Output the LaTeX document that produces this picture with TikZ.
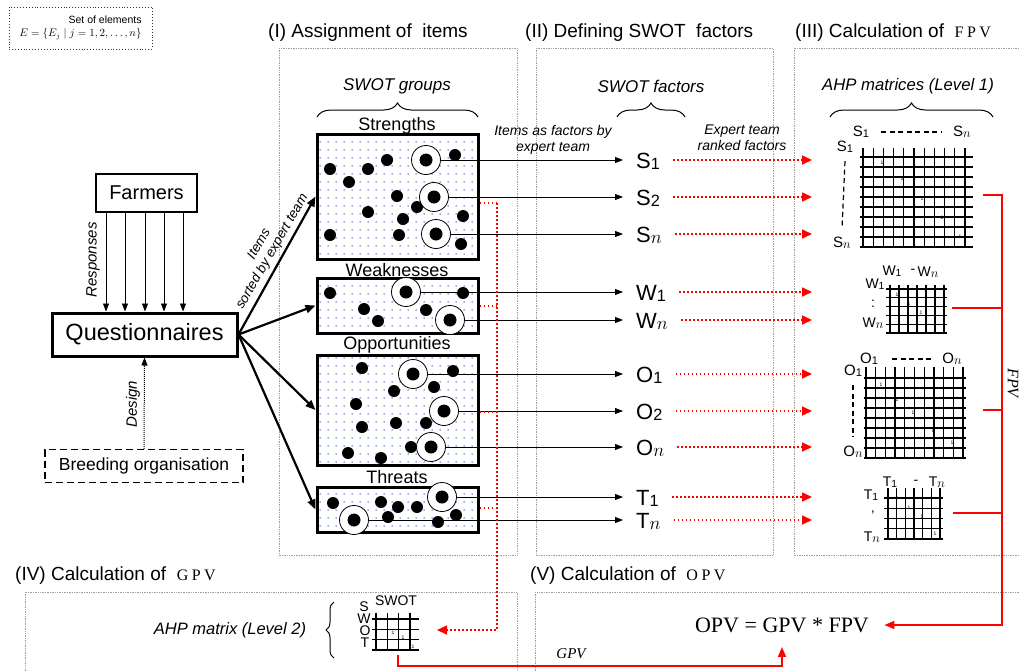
\documentclass[tikz,border=0pt]{standalone}
\usepackage{fontspec}
\setmainfont{Liberation Sans}
\newfontfamily\serif{Liberation Serif}
\usetikzlibrary{arrows.meta,decorations.pathreplacing,patterns.meta}
\definecolor{dotblue}{RGB}{50,90,220}
\newcommand\fsz[1]{\fontsize{#1}{#1}\selectfont}
\newcommand\fszl[2]{\fontsize{#1}{#2}\selectfont}
\newcommand\lowsub[1]{\raisebox{-0.08em}{\scalebox{0.74}{#1}}}
\newcommand\nsub{\raisebox{-0.08em}{\scalebox{0.9}{$n$}}}
\newcommand\spc{\kern3.5pt}
\newcommand\ahpgrid[9]{%
  \foreach \i in {1,...,#5}{\pgfmathsetmacro\xx{#3+(\i-1)*(#4-#3)/(#5-1)}\draw[gridl] (\xx,#6) -- (\xx,#8);}%
  \foreach \j in {1,...,#9}{\pgfmathsetmacro\yy{#7+(\j-1)*(#8-#7)/(#9-1)}\draw[gridl] (#1,\yy) -- (#2,\yy);}}
\begin{document}
\begin{tikzpicture}[x=1pt,y=-1pt,
  secbox/.style={draw=gray!75,densely dotted,line width=0.7pt},
  sectitle/.style={anchor=west,inner sep=0pt,font=\fsz{19}},
  grp/.style={draw,line width=3pt,pattern={Dots[distance=8pt,radius=0.75pt]},pattern color=dotblue,inner sep=0pt},
  grplabel/.style={anchor=base,inner sep=0pt,font=\fsz{18}},
  ring/.style={circle,draw,line width=0.8pt,fill=white,minimum size=29pt,inner sep=0pt},
  fac/.style={anchor=base west,inner xsep=13pt,inner ysep=2pt,font=\fsz{22}},
  blk/.style={-{Triangle[length=8pt,width=6pt]},line width=0.8pt},
  thk/.style={-{Triangle[length=10pt,width=8pt]},line width=2.2pt},
  rdot/.style={red,line width=1.6pt,dash pattern=on 1.6pt off 2.4pt},
  rdotarr/.style={rdot,-{Triangle[length=10pt,width=9pt]}},
  rline/.style={red,line width=1.6pt},
  rarr/.style={rline,-{Triangle[length=10pt,width=8pt]}},
  gridl/.style={line width=1.3pt},
  one/.style={inner sep=0pt,font=\fsz{5}},
  mlab/.style={inner sep=0pt,font=\fsz{15}},
  slab/.style={inner sep=0pt,font=\fsz{14}},
  brc/.style={decorate,decoration={brace,amplitude=14pt},line width=1pt},
  mdash/.style={line width=1.2pt,dash pattern=on 5pt off 3.5pt}
]
\clip (0,0) rectangle (1020,670);
\fill[white] (0,0) rectangle (1020,670);

% section boxes
\draw[secbox] (279,48) rectangle (517,555);
\draw[secbox] (536,48) rectangle (773,555);
\draw[secbox] (794,48) rectangle (1030,555);
\draw[secbox] (25,592) rectangle (517,690);
\draw[secbox] (535,592) rectangle (1030,690);

% titles
\node[sectitle] (t1) at (268,33) {(I) Assignment of\ \ items};
\node[sectitle] (t2) at (525,33) {(II) Defining SWOT\ \ factors};
\node[sectitle] (t3) at (795,33) {(III) Calculation of\ \ {\serif\fsz{16}F\spc P\spc V}};
\node[sectitle] (t4) at (15,576) {(IV) Calculation of\ \ {\serif\fsz{16}G\spc P\spc V}};
\node[sectitle] (t5) at (530,576) {(V) Calculation of\ \ {\serif\fsz{16}O\spc P\spc V}};

% set of elements
\node[draw=black!80,dotted,line width=0.9pt,minimum width=143pt,minimum height=42pt,align=right,font=\fszl{10.5}{13}] (setel) at (80.5,28) {Set of elements\\$E=\{E_j\mid j=1,2,\dots,n\}$};

% left part
\node[draw,line width=2pt,minimum width=101pt,minimum height=38pt,font=\fsz{20}] (f) at (146.5,193) {Farmers};
\node[draw,line width=3pt,minimum width=185pt,minimum height=43pt,font=\fsz{23.5}] (q) at (144.5,334.5) {Questionnaires};
\node[draw,line width=1.5pt,dash pattern=on 7pt off 4pt,minimum width=198pt,minimum height=33pt,font=\fsz{17.5}] (b) at (144,466) {Breeding organisation};
\foreach \x in {106,125,145,164,183}{\coordinate (fx) at (\x,0); \draw[blk] (f.south -| fx) -- (q.north -| fx);}
\draw[densely dotted,line width=1pt,-{Triangle[length=8pt,width=6pt]}] (b.north) -- (q.south);
\node[rotate=90,font=\itshape\fsz{15}] (resp) at (93,260) {Responses};
\node[rotate=90,font=\itshape\fsz{15}] (des) at (133,404) {Design};

% group boxes
\node[grp,minimum width=161pt,minimum height=125pt] (gS) at (397.5,196.5) {};
\node[grp,minimum width=161pt,minimum height=55pt] (gW) at (397.5,305.5) {};
\node[grp,minimum width=161pt,minimum height=110pt] (gO) at (397.5,410) {};
\node[grp,minimum width=161pt,minimum height=45pt] (gT) at (397.5,509.5) {};
\node[grplabel] (lS) at (397,130) {Strengths};
\node[grplabel] (lW) at (397,276) {Weaknesses};
\node[grplabel] (lO) at (397,349) {Opportunities};
\node[grplabel] (lT) at (397,483) {Threats};
\foreach \g in {gS,gW,gO,gT} \draw[thk] (q.east) -- (\g.west);
\node[rotate=60,align=center,inner sep=0pt,font=\itshape\fszl{13.5}{15}] (itl) at (266,248) {Items\\sorted by expert team};

\draw[brc] (317,117) -- (478,117);
\node[font=\itshape\fsz{17}] (swg) at (397,86) {SWOT groups};

% items
\foreach \p in {(330,169),(349,182),(368,169),(387,160),(455,155),(397,196),(417,207),(368,212),(403,219),(463,216),(330,235),(399,235),(461,244),
  (330,293),(463,293),(364,309),(378,321),(426,310),
  (362,368),(453,371),(434,387),(394,391),(356,404),(362,427),(396,423),(426,423),(411,447),(348,453),(381,458),
  (333,503),(381,502),(398,507),(417,507),(388,517),(456,515),(438,522)}
  \fill \p circle (6pt);
\node[ring] (cS1) at (426,160) {};
\node[ring] (cS2) at (434,197) {};
\node[ring] (cSn) at (436,234) {};
\node[ring] (cW1) at (406,292) {};
\node[ring] (cWn) at (450,320) {};
\node[ring] (cO1) at (413,374) {};
\node[ring] (cO2) at (444,411) {};
\node[ring] (cOn) at (431,447) {};
\node[ring] (cT1) at (442,497) {};
\node[ring] (cTn) at (354,520) {};
\foreach \c in {cS1,cS2,cSn,cW1,cWn,cO1,cO2,cOn,cT1,cTn} \fill (\c) circle (6.5pt);

% factors
\node[fac] (s1) at (623,168) {S\lowsub{1}};
\node[fac] (s2) at (623,205) {S\lowsub{2}};
\node[fac] (sn) at (623,242) {S\nsub};
\node[fac] (w1) at (623,300) {W\lowsub{1}};
\node[fac] (wn) at (623,328) {W\nsub};
\node[fac] (o1) at (623,382) {O\lowsub{1}};
\node[fac] (o2) at (623,419) {O\lowsub{2}};
\node[fac] (on) at (623,455) {O\nsub};
\node[fac] (t1f) at (623,505) {T\lowsub{1}};
\node[fac] (tn) at (623,528) {T\nsub};
\coordinate (rt) at (812,0);
\foreach \c/\n in {cS1/s1,cS2/s2,cSn/sn,cW1/w1,cWn/wn,cO1/o1,cO2/o2,cOn/on,cT1/t1f,cTn/tn}{
  \draw[blk] (\c.east) -- (\c.east -| \n.west);
  \draw[rdotarr] (\c -| \n.east) -- (\c -| rt);}
\draw[brc] (617,117) -- (685,117);
\node[font=\itshape\fsz{17}] (swf) at (651,86) {SWOT factors};
\node[align=center,font=\itshape\fszl{14}{16}] (iaf) at (553,140) {Items as factors by\\expert team};
\node[align=center,font=\itshape\fszl{14}{16}] (etr) at (742,138) {Expert team\\ranked factors};

% red dotted to level 2
\coordinate (vr) at (497,0);
\coordinate (yS) at (0,203);
\coordinate (yW) at (0,306);
\coordinate (yO) at (0,412);
\coordinate (yT) at (0,508);
\coordinate (l2in) at (437,630);
\draw[rdot] (gS.east |- yS) -- (vr |- yS);
\draw[rdot] (gW.east |- yW) -- (vr |- yW);
\draw[rdot] (gO.east |- yO) -- (vr |- yO);
\draw[rdot] (gT.east |- yT) -- (vr |- yT);
\draw[rdotarr] (vr |- yS) -- (vr |- l2in) -- (l2in);

% AHP level 1
\draw[brc] (830,117) -- (993,117);
\node[font=\itshape\fsz{16.7}] (ahp1) at (908,86) {AHP matrices (Level 1)};
\ahpgrid{860}{973}{863}{965}{11}{148}{157}{247}{10}
\ahpgrid{886}{947}{890}{944}{7}{285}{289}{333}{6}
\ahpgrid{864}{966}{866}{963}{11}{367}{378}{458}{9}
\ahpgrid{884}{943}{888}{940}{7}{488}{498}{539}{5}
\foreach[count=\k] \p in {(882,163),(902,179),(922,199),(942,218),(960,237),(897,295),(909,304),(921,313),(935,330),(881,385),(897,400),(913,413),(933,431),(952,443),(897,498),(909,508),(922,517),(935,534),(393,633),(403,638),(413,647)}
  \node[one] (d\k) at \p {1};
% S labels
\node[mlab] (sa) at (861,132) {S\lowsub{1}};
\node[mlab] (sb) at (962,132) {S\nsub};
\draw[mdash] ([xshift=12pt]sa.east) -- ([xshift=-12pt]sb.west);
\node[mlab] (sc) at (845,147) {S\lowsub{1}};
\node[mlab] (sd) at (842,243) {S\nsub};
\draw[mdash] ([yshift=-8pt]sc.south) -- ([yshift=8pt]sd.north);
% W labels
\node[slab] (wa) at (892,271) {W\lowsub{1}};
\node[slab] (wdash) at (913,271) {-};
\node[slab] (wb) at (928,272) {W\nsub};
\node[slab] (wc) at (875,284) {W\lowsub{1}};
\node[slab] (wcol) at (873,304) {:};
\node[slab] (wd) at (873,323) {W\nsub};
% O labels
\node[mlab] (oa) at (869,359) {O\lowsub{1}};
\node[mlab] (ob) at (952,359) {O\nsub};
\draw[mdash] ([xshift=14pt]oa.east) -- ([xshift=-10pt]ob.west);
\node[mlab] (oc) at (853,371) {O\lowsub{1}};
\node[mlab] (od) at (853,452) {O\nsub};
\draw[mdash] ([yshift=-8pt]oc.south) -- ([yshift=9pt]od.north);
% T labels
\node[slab] (ta) at (890,482) {T\lowsub{1}};
\node[slab] (tdash) at (916,482) {-};
\node[slab] (tb) at (937,482) {T\nsub};
\node[slab] (tc) at (871,495) {T\lowsub{1}};
\node[slab] (tcol) at (873,516) {'};
\node[slab] (td) at (872,537) {T\nsub};

% FPV bus
\node[font=\serif\fsz{22}] (opv) at (782,625) {OPV = GPV * FPV};
\coordinate (bus) at (1002,0);
\coordinate (mS) at (983,195);
\coordinate (mW) at (952,308);
\coordinate (mO) at (983,410);
\coordinate (mT) at (953,513);
\draw[rarr] (mS) -- (mS -| bus) -- (bus |- opv.east) -- ([xshift=12pt]opv.east);
\draw[rline] (mW) -- (mW -| bus);
\draw[rline] (mO) -- (mO -| bus);
\draw[rline] (mT) -- (mT -| bus);
\node[rotate=-90,font=\serif\itshape\fsz{16}] (fpvl) at (1013,383) {FPV};

% AHP level 2
\node[font=\itshape\fsz{16.5}] (l2t) at (230,630) {AHP matrix (Level 2)};
\draw[decorate,decoration={brace,amplitude=8pt},line width=1pt] (334,658) -- (334,602);
\ahpgrid{372}{419}{376}{410}{4}{613}{619}{650}{4}
\node[slab] (swot) at (396,601) {SWOT};
\node[slab] (l2s) at (364,607) {S};
\node[slab] (l2w) at (364,619) {W};
\node[slab] (l2o) at (365,631) {O};
\node[slab] (l2tt) at (365,643) {T};
\coordinate (l2b) at (398,655);
\draw[rarr] (l2b) -- ++(0,11) -| ([yshift=-11pt]opv.south);
\node[font=\serif\itshape\fsz{15}] (gpvl) at (571,654) {GPV};
\end{tikzpicture}
\end{document}
